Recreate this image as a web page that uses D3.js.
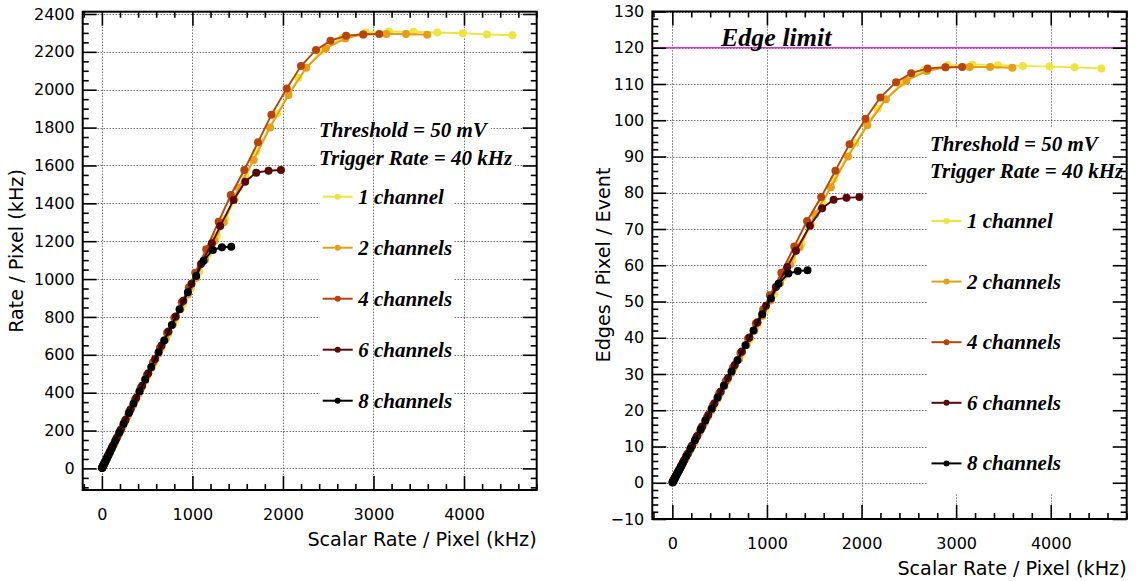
<!DOCTYPE html>
<html>
<head>
<meta charset="utf-8">
<title>Rate and edges per pixel vs scalar rate</title>
<script src="https://cdn.jsdelivr.net/npm/d3@7"></script>
<style>
  html, body { margin: 0; padding: 0; background: #fff; }
  svg { display: block; }
</style>
</head>
<body>
<svg id="chart" width="1138" height="581"></svg>
<script>
// ---------------- data ----------------
const channelLabels = ["1 channel", "2 channels", "4 channels", "6 channels", "8 channels"];

// 1 channel
const scalar1 = [4, 11, 20, 31, 45, 60, 78, 98, 122, 160, 205, 255, 312, 372, 438, 505, 578, 655, 735, 815, 900, 985, 1075, 1170, 1270, 1365, 1470, 1590, 1707, 1936, 2171, 2420, 2660, 2913, 3171, 3442, 3706, 3988, 4253, 4535];
const rate1   = [4, 11, 19, 30, 44, 58, 75, 95, 118, 155, 198, 247, 302, 360, 424, 488, 559, 633, 711, 788, 870, 953, 1040, 1131, 1228, 1320, 1421, 1538, 1673, 1875, 2063, 2205, 2275, 2302, 2308, 2306, 2302, 2298, 2292, 2287];
const edges1  = [0.2, 0.6, 1.0, 1.5, 2.2, 2.9, 3.8, 4.8, 5.9, 7.8, 9.9, 12.4, 15.1, 18.0, 21.2, 24.4, 28.0, 31.7, 35.6, 39.4, 43.5, 47.7, 52.0, 56.6, 61.4, 66.0, 71.1, 76.9, 83.7, 93.8, 103.2, 110.3, 113.8, 115.2, 115.4, 115.2, 115.0, 114.8, 114.6, 114.3];

// 2 channels
const scalar2 = [3, 9, 17, 27, 38, 52, 68, 86, 108, 140, 182, 230, 285, 345, 410, 478, 550, 625, 705, 785, 868, 950, 1040, 1140, 1245, 1345, 1509, 1676, 1857, 2061, 2257, 2474, 2690, 2887, 3143, 3359, 3594];
const rate2   = [3, 9, 16, 26, 37, 50, 66, 83, 104, 135, 176, 222, 276, 334, 397, 463, 532, 605, 682, 760, 840, 919, 1006, 1102, 1203, 1300, 1482, 1629, 1800, 1972, 2116, 2218, 2271, 2292, 2294, 2294, 2290];
const edges2  = [0.2, 0.5, 0.8, 1.3, 1.9, 2.5, 3.3, 4.2, 5.2, 6.8, 8.8, 11.1, 13.8, 16.7, 19.9, 23.2, 26.6, 30.3, 34.1, 38.0, 42.0, 46.0, 50.3, 55.1, 60.2, 65.0, 74.1, 81.5, 90.0, 98.6, 105.8, 110.9, 113.6, 114.6, 114.7, 114.7, 114.5];

// 4 channels
const scalar4 = [4, 10, 18, 28, 40, 55, 72, 92, 118, 155, 200, 250, 305, 365, 428, 495, 565, 640, 720, 800, 882, 960, 1031, 1152, 1289, 1424, 1573, 1724, 1873, 2042, 2199, 2365, 2525, 2698, 2887, 3064];
const rate4   = [4, 10, 18, 28, 40, 55, 72, 92, 117, 153, 198, 248, 303, 362, 425, 492, 561, 636, 716, 796, 877, 955, 1034, 1157, 1303, 1444, 1576, 1722, 1868, 2007, 2125, 2210, 2259, 2285, 2292, 2294];
const edges4  = [0.2, 0.5, 0.9, 1.4, 2.0, 2.8, 3.6, 4.6, 5.9, 7.7, 9.9, 12.4, 15.2, 18.1, 21.3, 24.6, 28.1, 31.8, 35.8, 39.8, 43.9, 47.8, 51.7, 57.9, 65.2, 72.2, 78.8, 86.1, 93.4, 100.4, 106.3, 110.5, 113.0, 114.3, 114.6, 114.7];

// 6 channels
const scalar6 = [3, 8, 15, 25, 36, 50, 65, 82, 102, 128, 165, 210, 262, 318, 380, 445, 512, 588, 660, 735, 815, 900, 990, 1095, 1215, 1307, 1454, 1583, 1705, 1841, 1978];
const rate6   = [3, 8, 15, 24, 35, 49, 64, 80, 100, 125, 162, 206, 257, 312, 373, 437, 503, 578, 649, 723, 802, 886, 975, 1080, 1189, 1280, 1418, 1514, 1562, 1572, 1576];
const edges6  = [0.2, 0.4, 0.8, 1.2, 1.8, 2.5, 3.2, 4.0, 5.0, 6.3, 8.1, 10.3, 12.9, 15.6, 18.7, 21.9, 25.2, 28.9, 32.5, 36.2, 40.1, 44.3, 48.8, 54.0, 59.5, 64.0, 70.9, 75.7, 78.1, 78.6, 78.8];

// 8 channels
const scalar8 = [2, 6, 12, 20, 30, 42, 56, 72, 90, 112, 147, 191, 239, 298, 349, 416, 478, 545, 626, 688, 773, 858, 950, 1042, 1123, 1226, 1326, 1429];
const rate8   = [2, 6, 12, 19, 29, 41, 55, 70, 88, 110, 145, 188, 234, 292, 343, 408, 469, 535, 613, 675, 758, 840, 930, 1016, 1097, 1154, 1168, 1171];
const edges8  = [0.1, 0.3, 0.6, 1.0, 1.5, 2.1, 2.8, 3.5, 4.4, 5.5, 7.3, 9.4, 11.7, 14.6, 17.2, 20.4, 23.5, 26.8, 30.7, 33.8, 37.9, 42.0, 46.5, 50.8, 54.9, 57.7, 58.4, 58.6];

const xTickValues    = [0, 1000, 2000, 3000, 4000];
const rateTickValues = [0, 200, 400, 600, 800, 1000, 1200, 1400, 1600, 1800, 2000, 2200, 2400];
const edgeTickValues = [-10, 0, 10, 20, 30, 40, 50, 60, 70, 80, 90, 100, 110, 120, 130];

const edgeLimitValue = 120;
const edgeLimitLabel = "Edge limit";
const infoLines = ["Threshold = 50 mV", "Trigger Rate = 40 kHz"];
const xTitle = "Scalar Rate / Pixel (kHz)";
const rateTitle = "Rate / Pixel (kHz)";
const edgeTitle = "Edges / Pixel / Event";

// ---------------- style ----------------
const channelColors = ["#ede53c", "#e89e14", "#b8440c", "#5a0808", "#000000"];
const SANS = "'DejaVu Sans', Verdana, sans-serif";
const SERIF = "'Liberation Serif', 'Times New Roman', serif";
const MAJOR = 14, MINOR = 6;

const svg = d3.select("#chart");
svg.append("rect").attr("width", 1138).attr("height", 581).attr("fill", "#fff");

const xDomain = [-212, 4803];

function minorValues(domain, step, majors) {
  const start = Math.ceil(domain[0] / step) * step;
  return d3.range(start, domain[1] + 1e-9, step)
    .filter(v => !majors.some(m => Math.abs(m - v) < 1e-9));
}

function drawPanel(p) {
  const g = svg.append("g");
  const x = d3.scaleLinear().domain(xDomain).range([p.l, p.r]);
  const y = d3.scaleLinear().domain(p.yDomain).range([p.b, p.t]);
  const snap = v => Math.round(v) + 0.5;

  const gridH = g.append("g");
  const boxesUnder = g.append("g");
  const gridV = g.append("g");
  const boxesOver = g.append("g");
  const refLayer = g.append("g");
  const dataLayer = g.append("g");
  const textLayer = g.append("g");
  const axisLayer = g.append("g");

  const gridStyle = s => s.attr("stroke", "#333").attr("stroke-width", 1)
    .attr("stroke-dasharray", "1,2");

  // horizontal grid
  gridH.selectAll("line").data(p.yTicks).join("line")
    .attr("x1", p.l).attr("x2", p.r)
    .attr("y1", d => snap(y(d))).attr("y2", d => snap(y(d)))
    .call(gridStyle);
  // vertical grid
  gridV.selectAll("line").data(xTickValues).join("line")
    .attr("x1", d => snap(x(d))).attr("x2", d => snap(x(d)))
    .attr("y1", p.t).attr("y2", p.b)
    .call(gridStyle);

  // reference line
  if (p.edgeLimit) {
    refLayer.append("line")
      .attr("x1", p.l).attr("x2", p.r)
      .attr("y1", y(edgeLimitValue)).attr("y2", y(edgeLimitValue))
      .attr("stroke", "#e02ce0").attr("stroke-width", 1.3);
    refLayer.append("text")
      .attr("x", p.edgeLabel.x).attr("y", p.edgeLabel.y)
      .style("font-family", SERIF).style("font-size", "26px")
      .style("font-weight", "bold").style("font-style", "italic")
      .text(edgeLimitLabel);
  }

  // series
  const line = d3.line().x(d => x(d[0])).y(d => y(d[1]));
  p.series.forEach((s, i) => {
    const pts = s[0].map((v, k) => [v, s[1][k]]);
    const sg = dataLayer.append("g");
    sg.append("path").datum(pts).attr("d", line)
      .attr("fill", "none").attr("stroke", channelColors[i]).attr("stroke-width", 1.9);
    sg.selectAll("circle").data(pts).join("circle")
      .attr("cx", d => x(d[0])).attr("cy", d => y(d[1])).attr("r", 4)
      .attr("fill", channelColors[i]);
  });

  // info text
  const infoNodes = infoLines.map((t, i) => textLayer.append("text")
    .attr("x", p.info.x).attr("y", p.info.ys[i])
    .style("font-family", SERIF).style("font-size", "21px")
    .style("font-weight", "bold").style("font-style", "italic")
    .text(t));

  // legend
  const legendYs = channelLabels.map((_, i) => p.legend.y0 + i * p.legend.dy);
  const legendTexts = [];
  channelLabels.forEach((lab, i) => {
    const ly = legendYs[i];
    const lg = textLayer.append("g");
    lg.append("line").attr("x1", p.legend.x).attr("x2", p.legend.x + 30)
      .attr("y1", ly).attr("y2", ly)
      .attr("stroke", channelColors[i]).attr("stroke-width", 2);
    lg.append("circle").attr("cx", p.legend.x + 15).attr("cy", ly).attr("r", 3)
      .attr("fill", channelColors[i]);
    legendTexts.push(lg.append("text")
      .attr("x", p.legend.x + 35.5).attr("y", ly + 7)
      .style("font-family", SERIF).style("font-size", "21px")
      .style("font-weight", "bold").style("font-style", "italic")
      .text(lab));
  });

  // white boxes behind text
  if (p.boxMode === "separate") {
    infoNodes.forEach(n => {
      const b = n.node().getBBox();
      boxesUnder.append("rect").attr("x", b.x - 2).attr("y", b.y + 2)
        .attr("width", b.width + 4).attr("height", b.height - 4).attr("fill", "#fff");
    });
    const maxRight = d3.max(legendTexts, n => { const b = n.node().getBBox(); return b.x + b.width; });
    const top = legendYs[0] - p.legend.dy / 2, bot = legendYs[legendYs.length - 1] + p.legend.dy / 2;
    boxesUnder.append("rect").attr("x", p.legend.x - 3).attr("y", top)
      .attr("width", maxRight + 1 - (p.legend.x - 3)).attr("height", bot - top).attr("fill", "#fff");
  } else {
    const b0 = infoNodes[0].node().getBBox();
    const top = b0.y - 4;
    const bot = legendYs[legendYs.length - 1] + p.legend.dy / 2;
    const left = Math.min(b0.x, p.legend.x) - 3;
    boxesOver.append("rect").attr("x", left).attr("y", top)
      .attr("width", p.r - left).attr("height", bot - top).attr("fill", "#fff");
  }

  // axes
  function styleAxis(sel) {
    sel.select(".domain").remove();
    sel.selectAll("line").attr("stroke", "#000").attr("stroke-width", 1.6);
    sel.selectAll("text").attr("fill", "#000")
      .style("font-family", SANS).style("font-size", "16px");
  }
  const fmt = d3.format("d");
  const xMinor = minorValues(xDomain, 200, xTickValues);
  const yMinor = minorValues(p.yDomain, p.yMinorStep, p.yTicks);

  axisLayer.append("g").attr("transform", `translate(0,${p.b})`)
    .call(d3.axisBottom(x).tickValues(xTickValues).tickSizeInner(-MAJOR).tickSizeOuter(0)
      .tickPadding(18.6).tickFormat(fmt)).call(styleAxis);
  axisLayer.append("g").attr("transform", `translate(0,${p.b})`)
    .call(d3.axisBottom(x).tickValues(xMinor).tickSizeInner(-MINOR).tickSizeOuter(0)
      .tickFormat("")).call(styleAxis);
  axisLayer.append("g").attr("transform", `translate(0,${p.t})`)
    .call(d3.axisTop(x).tickValues(xTickValues).tickSizeInner(-MAJOR).tickSizeOuter(0)
      .tickFormat("")).call(styleAxis);
  axisLayer.append("g").attr("transform", `translate(0,${p.t})`)
    .call(d3.axisTop(x).tickValues(xMinor).tickSizeInner(-MINOR).tickSizeOuter(0)
      .tickFormat("")).call(styleAxis);

  axisLayer.append("g").attr("transform", `translate(${p.l},0)`)
    .call(d3.axisLeft(y).tickValues(p.yTicks).tickSizeInner(-MAJOR).tickSizeOuter(0)
      .tickPadding(8).tickFormat(fmt)).call(styleAxis);
  axisLayer.append("g").attr("transform", `translate(${p.l},0)`)
    .call(d3.axisLeft(y).tickValues(yMinor).tickSizeInner(-MINOR).tickSizeOuter(0)
      .tickFormat("")).call(styleAxis);
  axisLayer.append("g").attr("transform", `translate(${p.r},0)`)
    .call(d3.axisRight(y).tickValues(p.yTicks).tickSizeInner(-MAJOR).tickSizeOuter(0)
      .tickFormat("")).call(styleAxis);
  axisLayer.append("g").attr("transform", `translate(${p.r},0)`)
    .call(d3.axisRight(y).tickValues(yMinor).tickSizeInner(-MINOR).tickSizeOuter(0)
      .tickFormat("")).call(styleAxis);

  // frame
  axisLayer.append("rect").attr("x", p.l).attr("y", p.t)
    .attr("width", p.r - p.l).attr("height", p.b - p.t)
    .attr("fill", "none").attr("stroke", "#000").attr("stroke-width", 2);

  // axis titles
  axisLayer.append("text").attr("x", p.r).attr("y", p.b + 55.5)
    .attr("text-anchor", "end")
    .style("font-family", SANS).style("font-size", "19.2px").text(xTitle);
  axisLayer.append("text")
    .attr("transform", `translate(${p.yTitleX},${p.yTitleY}) rotate(-90)`)
    .attr("text-anchor", "middle")
    .style("font-family", SANS).style("font-size", "19.2px").text(p.yTitle);
}

drawPanel({
  l: 82.7, r: 536.7, t: 11.7, b: 490,
  yDomain: [-114, 2412], yTicks: rateTickValues, yMinorStep: 50,
  series: [[scalar1, rate1], [scalar2, rate2], [scalar4, rate4], [scalar6, rate6], [scalar8, rate8]],
  yTitle: rateTitle, yTitleX: 23, yTitleY: 251,
  info: { x: 319, ys: [137.3, 165] },
  legend: { x: 322.7, y0: 196.7, dy: 51 },
  boxMode: "separate"
});

drawPanel({
  l: 652.3, r: 1126.7, t: 11.5, b: 519,
  yDomain: [-10, 130], yTicks: edgeTickValues, yMinorStep: 2,
  series: [[scalar1, edges1], [scalar2, edges2], [scalar4, edges4], [scalar6, edges6], [scalar8, edges8]],
  yTitle: edgeTitle, yTitleX: 610, yTitleY: 265,
  info: { x: 930, ys: [151, 178] },
  legend: { x: 931.5, y0: 221, dy: 60.6 },
  boxMode: "single",
  edgeLimit: true, edgeLabel: { x: 721, y: 46 }
});
</script>
</body>
</html>
